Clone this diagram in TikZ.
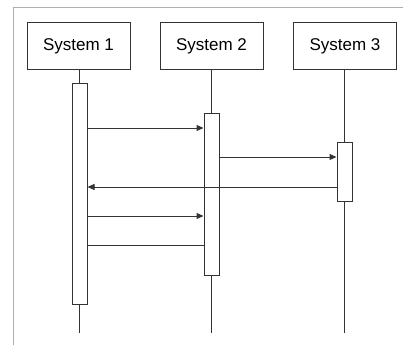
\documentclass[tikz,border=0pt]{standalone}
\usepackage{fontspec}
\setmainfont{Liberation Sans}
\usetikzlibrary{arrows.meta}
\definecolor{ln}{HTML}{333333}
\definecolor{fr}{HTML}{B0B0B0}
\begin{document}
\begin{tikzpicture}[x=1pt,y=-1pt,
  sysbox/.style={draw=ln,line width=1pt,minimum width=103pt,minimum height=46pt,inner sep=0pt,font=\fontsize{17}{19}\selectfont,fill=white},
  actbar/.style={draw=ln,line width=1pt,minimum width=15pt,inner sep=0pt,fill=white,anchor=north},
  life/.style={draw=ln,line width=1pt},
  msg/.style={draw=ln,line width=1pt,-{Triangle[length=7pt,width=6pt]}}]
\useasboundingbox (0,0) rectangle (403,345);
\draw[fr,line width=1pt] (13,345) -- (13,8) -- (403,8);
\node[sysbox] (s1) at (78.5,46) {System 1};
\node[sysbox] (s2) at (211.5,46) {System 2};
\node[sysbox] (s3) at (345,46) {System 3};
\coordinate (e1) at (79.5,333);
\coordinate (e2) at (211.5,333);
\coordinate (e3) at (344.5,333);
\node[actbar,minimum height=221pt] (a1) at (79.5,83) {};
\node[actbar,minimum height=162pt] (a2) at (211.5,113) {};
\node[actbar,minimum height=59pt] (a3) at (344.5,142) {};
\draw[life] (s1.south -| a1.north) -- (a1.north);
\draw[life] (a1.south) -- (e1);
\draw[life] (s2.south -| a2.north) -- (a2.north);
\draw[life] (a2.south) -- (e2);
\draw[life] (s3.south -| a3.north) -- (a3.north);
\draw[life] (a3.south) -- (e3);
\draw[msg] (a1.east |- 0,128) -- (a2.west |- 0,128);
\draw[msg] (a2.east |- 0,157) -- (a3.west |- 0,157);
\draw[msg] (a3.west |- 0,187) -- (a1.east |- 0,187);
\draw[msg] (a1.east |- 0,216) -- (a2.west |- 0,216);
\draw[life] (a1.east |- 0,245) -- (a2.west |- 0,245);
\end{tikzpicture}
\end{document}
